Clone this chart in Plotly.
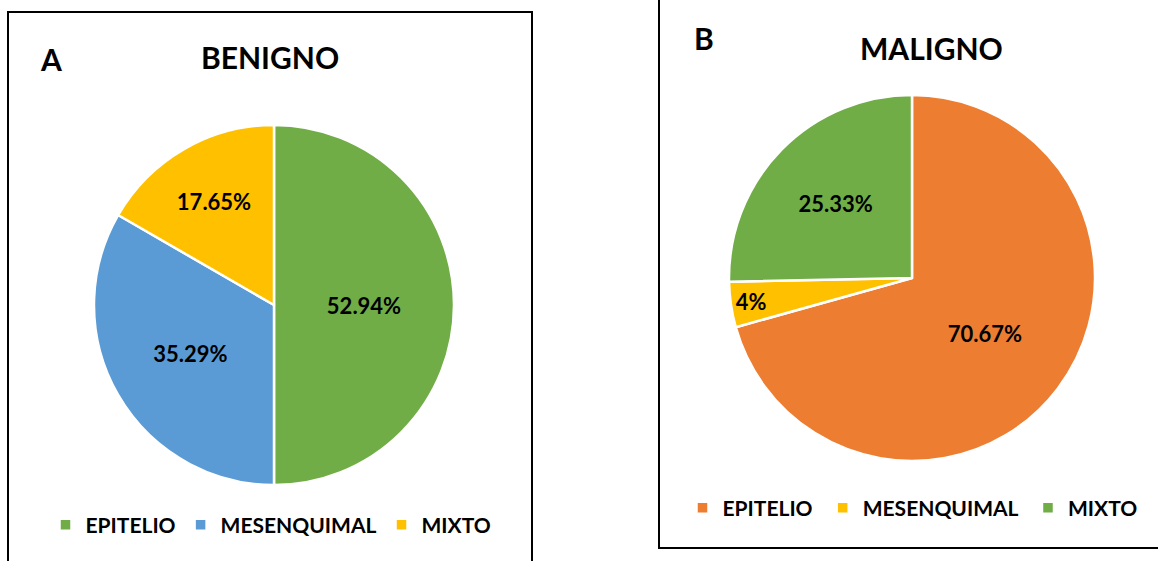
import plotly.graph_objects as go

W, H = 1158, 561

categories_a = ["EPITELIO", "MESENQUIMAL", "MIXTO"]
values_a = [9, 6, 3]
labels_a = ["52.94%", "35.29%", "17.65%"]
colors_a = ["#70AD47", "#5B9BD5", "#FFC000"]

categories_b = ["EPITELIO", "MESENQUIMAL", "MIXTO"]
values_b = [70.67, 4, 25.33]
labels_b = ["70.67%", "4%", "25.33%"]
colors_b = ["#ED7D31", "#FFC000", "#70AD47"]

FONT = "Lato"

def px(x):
    return x / W

def py(y):
    return 1 - y / H

def dom(cx, cy, r):
    return dict(x=[px(cx - r), px(cx + r)], y=[py(cy + r), py(cy - r)])

labfont = dict(family=FONT, size=22, color="black", weight="bold")

fig = go.Figure()
fig.add_trace(go.Pie(
    labels=categories_a, values=values_a, text=labels_a, textinfo="text",
    sort=False, direction="clockwise", rotation=0,
    marker=dict(colors=colors_a, line=dict(color="white", width=2.5)),
    textposition="inside", insidetextorientation="horizontal",
    textfont=labfont,
    domain=dom(274, 305, 180), legend="legend", hoverinfo="label+text",
))
# distinct label keys so panel B gets its own legend entries
fig.add_trace(go.Pie(
    labels=[c + " " for c in categories_b], values=values_b, text=labels_b, textinfo="text",
    sort=False, direction="clockwise", rotation=0,
    marker=dict(colors=colors_b, line=dict(color="white", width=2.5)),
    textposition="inside", insidetextorientation="horizontal",
    textfont=labfont,
    domain=dom(912, 278, 183), legend="legend2", hoverinfo="label+text",
))

legfont = dict(family=FONT, size=21, color="black", weight="bold")
titfont = dict(family=FONT, size=30, color="black", weight="bold")
fig.update_layout(
    width=W, height=H, margin=dict(l=0, r=0, t=0, b=0),
    paper_bgcolor="white", plot_bgcolor="white",
    legend=dict(orientation="h", x=px(271), y=py(525), xanchor="center", yanchor="middle",
                font=legfont, traceorder="normal", itemwidth=30, bgcolor="rgba(0,0,0,0)"),
    legend2=dict(orientation="h", x=px(915), y=py(508), xanchor="center", yanchor="middle",
                 font=legfont, traceorder="normal", itemwidth=30, bgcolor="rgba(0,0,0,0)"),
    shapes=[
        dict(type="rect", xref="paper", yref="paper", x0=px(8), x1=px(532), y0=py(575), y1=py(12),
             line=dict(color="black", width=2)),
        dict(type="rect", xref="paper", yref="paper", x0=px(659), x1=px(1175), y0=py(548), y1=py(-10),
             line=dict(color="black", width=2)),
    ],
    annotations=[
        dict(text="A", x=px(51), y=py(59), xref="paper", yref="paper", showarrow=False,
             xanchor="center", yanchor="middle", font=titfont),
        dict(text="BENIGNO", x=px(270), y=py(57), xref="paper", yref="paper", showarrow=False,
             xanchor="center", yanchor="middle", font=titfont),
        dict(text="B", x=px(704), y=py(38), xref="paper", yref="paper", showarrow=False,
             xanchor="center", yanchor="middle", font=titfont),
        dict(text="MALIGNO", x=px(931), y=py(48), xref="paper", yref="paper", showarrow=False,
             xanchor="center", yanchor="middle", font=titfont),
    ],
)

fig.write_html("out.html")
